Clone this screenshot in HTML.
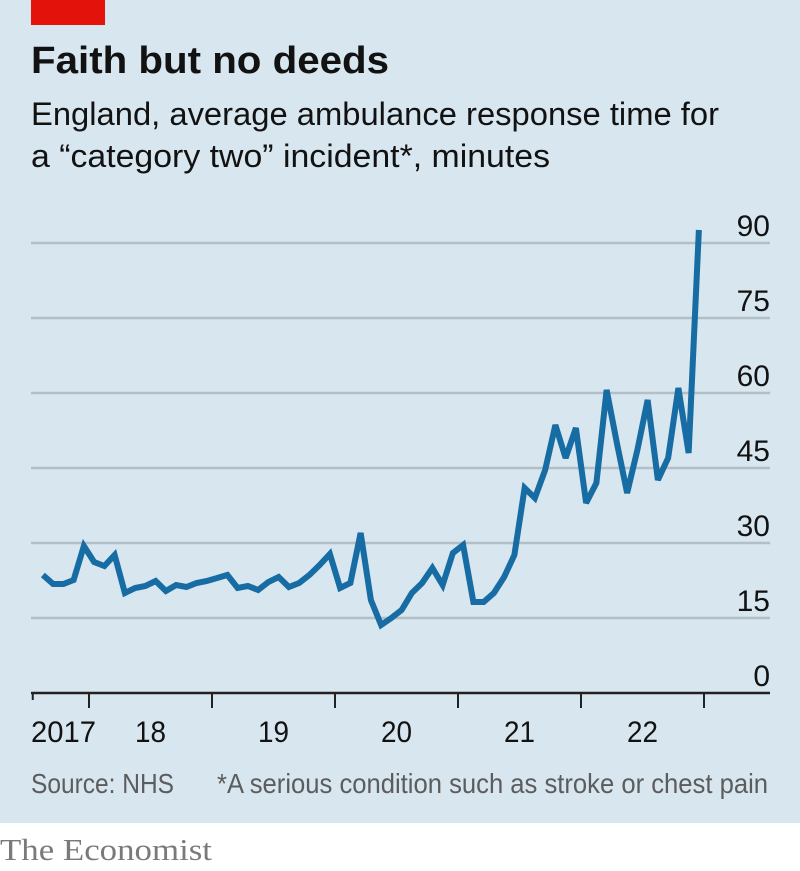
<!DOCTYPE html>
<html><head><meta charset="utf-8"><style>
html,body{margin:0;padding:0;background:#fff}
svg{display:block}
text{font-family:"Liberation Sans",sans-serif}
</style></head><body>
<svg width="800" height="871" viewBox="0 0 800 871">
<rect x="0" y="0" width="800" height="823" fill="#d7e6ef"/>
<rect x="31" y="0" width="74" height="25" fill="#e3120b"/>
<text x="31" y="73" font-size="38" font-weight="bold" fill="#121212" textLength="358" lengthAdjust="spacingAndGlyphs">Faith but no deeds</text>
<text x="31" y="125" font-size="32" fill="#121212" textLength="688" lengthAdjust="spacingAndGlyphs">England, average ambulance response time for</text>
<text x="31" y="167" font-size="32" fill="#121212" textLength="519" lengthAdjust="spacingAndGlyphs">a “category two” incident*, minutes</text>
<g id="grid"></g>
<g id="xaxis"></g>
<path id="series" fill="none" stroke="#166ca3" stroke-width="6" stroke-linejoin="miter" stroke-miterlimit="3"/>
<text x="31" y="793" font-size="28" fill="#5c5c5c" textLength="143" lengthAdjust="spacingAndGlyphs">Source: NHS</text>
<text x="217" y="793" font-size="28" fill="#5c5c5c" textLength="551" lengthAdjust="spacingAndGlyphs">*A serious condition such as stroke or chest pain</text>
<text x="0" y="860" font-family="Liberation Serif" font-size="31" fill="#7a7a7a" textLength="212" lengthAdjust="spacingAndGlyphs" style="font-family:'Liberation Serif',serif">The Economist</text>
</svg>
<script>
const yTicks = [15, 30, 45, 60, 75, 90];
const yearLabels = ["2017", "18", "19", "20", "21", "22"];
const startMonth = 7; // Aug 2017, months since Jan 2017
const values = [23.6,21.8,21.8,22.6,29.4,26.2,25.4,27.6,20,21,21.4,22.4,20.4,21.6,21.2,22,22.4,23,23.6,21,21.4,20.6,22.2,23.2,21.2,22,23.6,25.6,27.8,21,22,32,18.6,13.6,15,16.6,20,22,25,21.6,28,29.6,18.2,18.2,20,23.2,27.6,41,39,44.6,53.6,47,53,38,42,60.6,50,40,48.6,58.6,42.6,47,61,48,92.6];

const NS = "http://www.w3.org/2000/svg";
function yScale(v){ return 693 - 5*v; }
function xMonth(m){ return 89 + (m - 12) * 10.25; }
function mk(tag, attrs, parent){ const e=document.createElementNS(NS,tag); for(const k in attrs) e.setAttribute(k,attrs[k]); parent.appendChild(e); return e; }

const grid = document.getElementById("grid");
yTicks.forEach(v=>{
  const l = mk("line",{x1:31,x2:770,y1:yScale(v),y2:yScale(v),stroke:"#b3bec6","stroke-width":2.5},grid);
  
  
});
[0].concat(yTicks).forEach(v=>{
  const t = mk("text",{x:770,y:yScale(v)-7,"font-size":30,fill:"#121212","text-anchor":"end"},grid);
  t.textContent = String(v);
  
  
});

const xa = document.getElementById("xaxis");
const ax = mk("line",{x1:31,x2:770,y1:693,y2:693,stroke:"#222","stroke-width":2.5},xa);


const t0 = mk("line",{x1:xMonth(startMonth)-5,x2:xMonth(startMonth)-5,y1:693,y2:700,stroke:"#222","stroke-width":2},xa);


for(let y=1;y<=6;y++){
  const x = xMonth(12*y);
  const tk = mk("line",{x1:x,x2:x,y1:693,y2:708,stroke:"#222","stroke-width":2},xa);
  
  
}
yearLabels.forEach((lab,i)=>{
  let x, anchor="middle";
  if(i===0){ x = 31; anchor="start"; } else { x = (xMonth(12*i)+xMonth(12*(i+1)))/2; }
  const t = mk("text",{x:x,y:742,"font-size":30,fill:"#121212","text-anchor":anchor,textLength: lab.length===4?65:31,lengthAdjust:"spacingAndGlyphs"},xa);
  t.textContent = lab;
  
  
});

let d = "";
values.forEach((v,i)=>{ const x = xMonth(startMonth+i) + 5.125; d += (i?"L":"M") + x.toFixed(2) + "," + yScale(v).toFixed(2); });
document.getElementById("series").setAttribute("d", d);
</script>
</body></html>
